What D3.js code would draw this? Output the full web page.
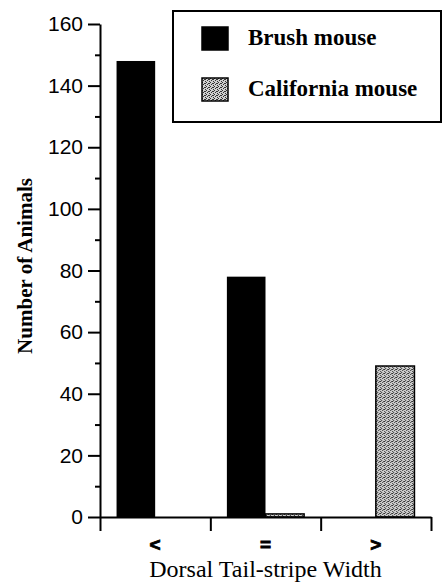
<!DOCTYPE html>
<html>
<head>
<meta charset="utf-8">
<script src="https://cdn.jsdelivr.net/npm/d3@7"></script>
<style>
  html, body { margin: 0; padding: 0; background: #fff; }
  svg { display: block; }
</style>
</head>
<body>
<div id="chart"></div>
<script>
// ── data ──────────────────────────────────────────
const categories = ['<', '=', '>'];
const seriesNames = ['Brush mouse', 'California mouse'];
const brushCounts = [148, 78, 0];
const californiaCounts = [0, 1, 49];
const yTicks = [0, 20, 40, 60, 80, 100, 120, 140, 160];

const W = 445, H = 583;
const plot = { left: 100, right: 431, top: 24, bottom: 517 };
const SERIF = '"Liberation Serif", "Times New Roman", serif';

const svg = d3.select('#chart').append('svg')
  .attr('width', W).attr('height', H);

// stipple pattern for California mouse
const defs = svg.append('defs');
const pat = defs.append('pattern')
  .attr('id', 'stipple')
  .attr('patternUnits', 'userSpaceOnUse')
  .attr('width', 4).attr('height', 4);
pat.append('rect').attr('width', 4).attr('height', 4).attr('fill', '#cfcfcf');
[[0, 0], [2, 1], [1, 2], [3, 3], [3, 1]].forEach(([x, y]) =>
  pat.append('rect').attr('x', x).attr('y', y).attr('width', 1).attr('height', 1).attr('fill', '#333'));

const fills = { 'Brush mouse': '#000', 'California mouse': 'url(#stipple)' };

// ── scales ────────────────────────────────────────
const y = d3.scaleLinear().domain([0, 160]).range([plot.bottom, plot.top]);
const x = d3.scaleBand().domain(categories).range([plot.left, plot.right])
  .paddingInner(0.3).paddingOuter(0.15);
const xSub = d3.scaleBand().domain(seriesNames).range([0, x.bandwidth()]);
const xEdge = d3.scaleLinear().domain([0, categories.length]).range([plot.left, plot.right]);

const rows = categories.map((c, i) => ({
  cat: c,
  values: [
    { name: seriesNames[0], v: brushCounts[i] },
    { name: seriesNames[1], v: californiaCounts[i] }
  ]
}));

// ── bars ──────────────────────────────────────────
svg.append('g').selectAll('g')
  .data(rows)
  .join('g')
    .attr('transform', d => `translate(${x(d.cat)},0)`)
  .selectAll('rect')
  .data(d => d.values.filter(e => e.v > 0))
  .join('rect')
    .attr('x', d => xSub(d.name))
    .attr('y', d => y(d.v))
    .attr('width', xSub.bandwidth())
    .attr('height', d => y(0) - y(d.v))
    .attr('fill', d => fills[d.name])
    .attr('stroke', '#000')
    .attr('stroke-width', d => d.name === 'California mouse' ? 1.5 : 0);

// ── axes ──────────────────────────────────────────
const yMinor = svg.append('g')
  .attr('transform', `translate(${plot.left},0)`)
  .call(d3.axisLeft(y).tickValues(d3.range(10, 160, 20)).tickSize(5).tickFormat(''));
yMinor.select('.domain').remove();

const yAxis = svg.append('g')
  .attr('transform', `translate(${plot.left},0)`)
  .call(d3.axisLeft(y).tickValues(yTicks).tickSize(12).tickSizeOuter(0).tickPadding(5));
yAxis.selectAll('text')
  .attr('font-family', '"Liberation Sans", Arial, sans-serif')
  .attr('font-size', 21)
  .attr('fill', '#000');

svg.append('g')
  .attr('transform', `translate(0,${plot.bottom})`)
  .call(d3.axisBottom(xEdge).tickValues(d3.range(0, categories.length + 1))
    .tickSize(14).tickSizeOuter(0).tickFormat(''));

svg.selectAll('.domain, .tick line').attr('stroke', '#000').attr('stroke-width', 2);

// category labels
svg.append('g').selectAll('text')
  .data(categories)
  .join('text')
    .attr('x', d => x(d) + x.bandwidth() / 2)
    .attr('y', 551)
    .attr('text-anchor', 'middle')
    .attr('font-family', '"Liberation Sans", Arial, sans-serif')
    .attr('font-weight', 'bold')
    .attr('font-size', 19)
    .attr('stroke', '#000')
    .attr('stroke-width', 0.8)
    .text(d => d);

// axis titles
svg.append('text')
  .attr('x', (plot.left + plot.right) / 2)
  .attr('y', 577)
  .attr('text-anchor', 'middle')
  .attr('font-family', SERIF)
  .attr('font-size', 24)
  .text('Dorsal Tail-stripe Width');

svg.append('text')
  .attr('transform', 'translate(32,266) rotate(-90)')
  .attr('text-anchor', 'middle')
  .attr('font-family', SERIF)
  .attr('font-weight', 'bold')
  .attr('font-size', 21)
  .text('Number of Animals');

// ── legend ────────────────────────────────────────
const legend = svg.append('g');
legend.append('rect')
  .attr('x', 173).attr('y', 11)
  .attr('width', 268).attr('height', 111)
  .attr('fill', '#fff')
  .attr('stroke', '#000')
  .attr('stroke-width', 2);

const item = legend.selectAll('g.item')
  .data(seriesNames)
  .join('g')
    .attr('class', 'item')
    .attr('transform', (d, i) => `translate(202,${27 + i * 51})`);
item.append('rect')
  .attr('width', 26).attr('height', 23)
  .attr('fill', d => fills[d])
  .attr('stroke', '#000').attr('stroke-width', 1.5);
item.append('text')
  .attr('x', 46).attr('y', 18)
  .attr('font-family', SERIF)
  .attr('font-weight', 'bold')
  .attr('font-size', 23)
  .text(d => d);
</script>
</body>
</html>
